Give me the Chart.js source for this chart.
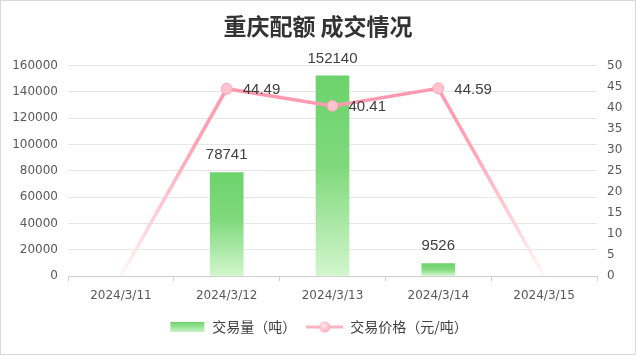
<!DOCTYPE html>
<html>
<head>
<meta charset="utf-8">
<script src="https://cdn.jsdelivr.net/npm/chart.js@4/dist/chart.umd.min.js"></script>
<style>
  html, body { margin: 0; padding: 0; background: #fff; }
  #wrap { width: 636px; height: 355px; }
</style>
</head>
<body>
<div id="wrap"><canvas id="c" width="636" height="355"></canvas></div>
<script>
// 重庆配额 成交情况 — daily volume (bars) and price (line)
const dates = ['2024/3/11', '2024/3/12', '2024/3/13', '2024/3/14', '2024/3/15'];
const volume = [null, 78741, 152140, 9526, null];      // 交易量（吨）
const price = [0, 44.49, 40.41, 44.59, 0];              // 交易价格（元/吨）
const volumeTicks = { min: 0, max: 160000, step: 20000 };
const priceTicks = { min: 0, max: 50, step: 5 };

const CJK = '"Noto Sans CJK SC", "Noto Sans", sans-serif';
const NUM = '"DejaVu Sans", sans-serif';
const LABEL = '"Liberation Sans", Arial, sans-serif';

// legend icons
function barIcon() {
  const c = document.createElement('canvas');
  c.width = 37; c.height = 10;
  const g = c.getContext('2d');
  const gr = g.createLinearGradient(0, 0, 0, 10);
  gr.addColorStop(0, '#6cd36c');
  gr.addColorStop(1, '#c9f3c4');
  g.fillStyle = gr;
  g.fillRect(2, 0, 34, 10);
  return c;
}
function lineIcon() {
  const c = document.createElement('canvas');
  c.width = 37; c.height = 14;
  const g = c.getContext('2d');
  g.strokeStyle = '#ffb3c1';
  g.lineWidth = 3;
  g.beginPath(); g.moveTo(0, 7); g.lineTo(37, 7); g.stroke();
  const rg = g.createRadialGradient(17, 5, 1, 18.5, 7, 6);
  rg.addColorStop(0, '#ffe6eb');
  rg.addColorStop(1, '#ffa6b8');
  g.fillStyle = rg;
  g.beginPath(); g.arc(18.5, 7, 5.5, 0, Math.PI * 2); g.fill();
  return c;
}
const icons = [barIcon(), lineIcon()];

// value labels above bars and beside line points
const valueLabels = {
  id: 'valueLabels',
  afterDatasetsDraw(chart) {
    const ctx = chart.ctx;
    ctx.save();
    ctx.fillStyle = '#404040';
    ctx.font = '15px ' + LABEL;
    const barMeta = chart.getDatasetMeta(0);
    barMeta.data.forEach((el, i) => {
      const v = volume[i];
      if (v == null) return;
      ctx.textAlign = 'center';
      ctx.textBaseline = 'alphabetic';
      ctx.fillText(String(v), el.x, el.y - 13);
    });
    const lineMeta = chart.getDatasetMeta(1);
    lineMeta.data.forEach((el, i) => {
      const v = price[i];
      if (!v) return;
      ctx.textAlign = 'left';
      ctx.textBaseline = 'middle';
      ctx.fillText(v.toFixed(2), el.x + 16, el.y + 1);
    });
    ctx.restore();
  }
};

// thin frame round the whole picture
const frame = {
  id: 'frame',
  afterDraw(chart) {
    const ctx = chart.ctx;
    ctx.save();
    ctx.strokeStyle = '#d9d9d9';
    ctx.lineWidth = 1;
    ctx.strokeRect(0.5, 0.5, chart.width - 1, chart.height - 1);
    ctx.restore();
  }
};

function barFill(c) {
  const chart = c.chart;
  if (!chart.chartArea || c.raw == null) return '#6cd36c';
  const y = chart.scales.y;
  const top = y.getPixelForValue(c.raw);
  const base = y.getPixelForValue(0);
  const g = chart.ctx.createLinearGradient(0, top, 0, base);
  g.addColorStop(0, '#6cd36c');
  g.addColorStop(0.45, '#7fd97c');
  g.addColorStop(1, '#d2f6cc');
  return g;
}

function lineStroke(c) {
  const chart = c.chart;
  const a = chart.chartArea;
  if (!a) return '#ff9db1';
  const g = chart.ctx.createLinearGradient(0, a.top, 0, a.bottom);
  g.addColorStop(0, '#ff94ab');
  g.addColorStop(0.4, '#ffa5b7');
  g.addColorStop(0.8, '#ffd9e0');
  g.addColorStop(1, '#fff7f9');
  return g;
}

new Chart(document.getElementById('c'), {
  data: {
    labels: dates,
    datasets: [
      {
        type: 'bar',
        label: '交易量（吨）',
        data: volume,
        yAxisID: 'y',
        backgroundColor: barFill,
        barThickness: 33,
        order: 1
      },
      {
        type: 'line',
        label: '交易价格（元/吨）',
        data: price,
        yAxisID: 'y1',
        borderColor: lineStroke,
        borderWidth: 3.5,
        tension: 0,
        pointRadius: (c) => (c.raw ? 5.5 : 0),
        pointHoverRadius: 5.5,
        pointBackgroundColor: '#ffc4cf',
        pointBorderColor: '#ffa3b6',
        pointBorderWidth: 1,
        order: 0
      }
    ]
  },
  options: {
    responsive: false,
    animation: false,
    devicePixelRatio: 1,
    layout: { padding: { left: 0, right: 0, top: 0, bottom: 11 } },
    plugins: {
      tooltip: { enabled: false },
      title: {
        display: true,
        text: '重庆配额 成交情况',
        color: '#333333',
        font: { family: CJK, size: 23, weight: 'bold' },
        padding: { top: 12, bottom: 26 }
      },
      legend: {
        position: 'bottom',
        labels: {
          usePointStyle: true,
          pointStyleWidth: 37,
          boxHeight: 12,
          padding: 10,
          color: '#404040',
          font: { family: CJK, size: 14 },
          sort: (a, b) => a.datasetIndex - b.datasetIndex,
          generateLabels(chart) {
            const items = Chart.defaults.plugins.legend.labels.generateLabels(chart);
            items.forEach((it) => { it.pointStyle = icons[it.datasetIndex]; });
            return items;
          }
        }
      }
    },
    scales: {
      x: {
        offset: true,
        grid: {
          offset: true,
          drawOnChartArea: false,
          drawTicks: true,
          tickLength: 5,
          color: '#d0d0d0'
        },
        border: { display: true, color: '#d0d0d0' },
        ticks: {
          color: '#595959',
          padding: 8,
          font: { family: NUM, size: 12 },
          maxRotation: 0
        },
        afterFit(s) { s.height = 34; }
      },
      y: {
        position: 'left',
        min: volumeTicks.min,
        max: volumeTicks.max,
        grid: { color: '#e6e6e6', drawTicks: false },
        border: { display: false },
        ticks: {
          stepSize: volumeTicks.step,
          color: '#595959',
          padding: 10,
          font: { family: NUM, size: 12 },
          callback: (v) => String(v)
        },
        afterFit(s) { s.width = 68; }
      },
      y1: {
        position: 'right',
        min: priceTicks.min,
        max: priceTicks.max,
        grid: { drawOnChartArea: false, drawTicks: false },
        border: { display: false },
        ticks: {
          stepSize: priceTicks.step,
          color: '#595959',
          padding: 10,
          font: { family: NUM, size: 12 },
          callback: (v) => String(v)
        },
        afterFit(s) { s.width = 39; }
      }
    }
  },
  plugins: [valueLabels, frame]
});
</script>
</body>
</html>
